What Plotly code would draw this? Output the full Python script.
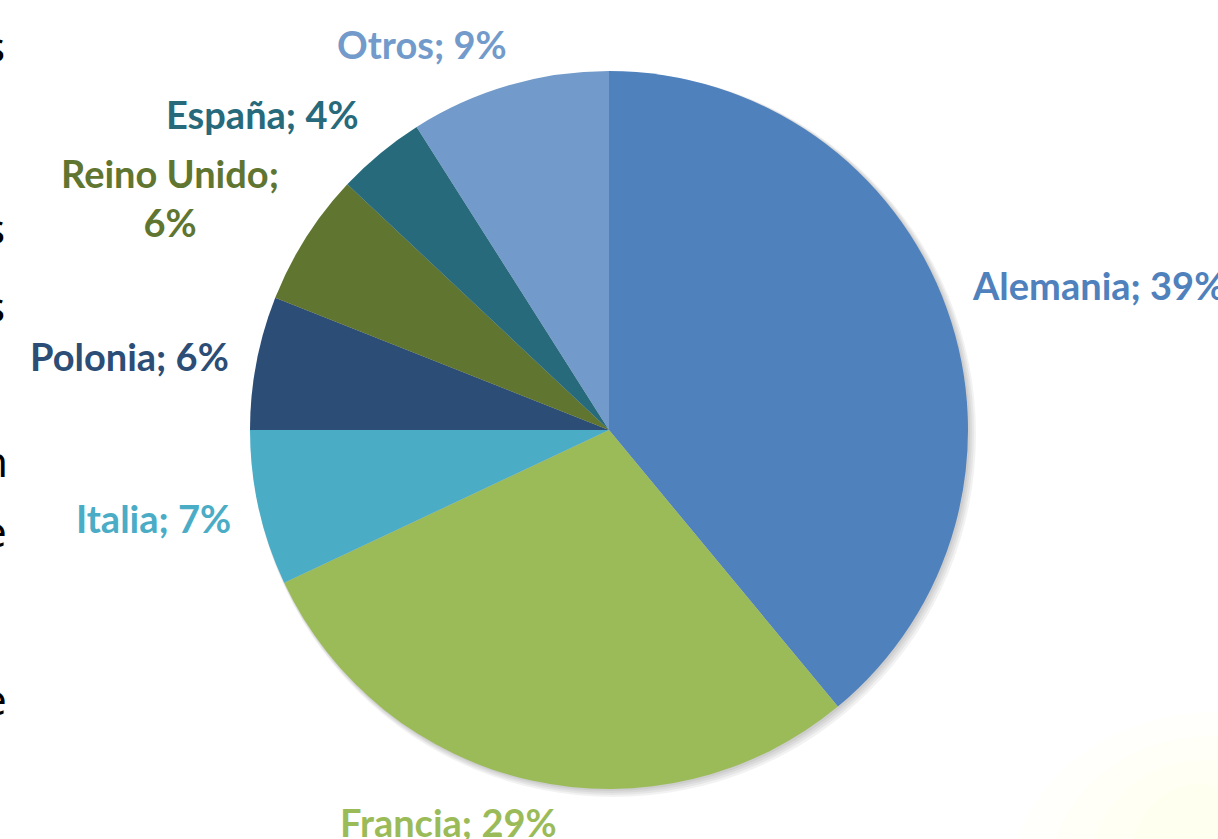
import plotly.graph_objects as go

# ---- data ----
countries = ["Alemania", "Francia", "Italia", "Polonia", "Reino Unido", "España", "Otros"]
shares = [39, 29, 7, 6, 6, 4, 9]
colors = ["#4F81BD", "#9BBB59", "#4BACC6", "#2C4D75", "#5F7530", "#276A7C", "#729ACA"]

W, H = 1218, 839
cx, cy, r = 609, 430, 359

fig = go.Figure()
fig.add_trace(go.Pie(
    labels=countries,
    values=shares,
    marker=dict(colors=colors, line=dict(width=0)),
    sort=False,
    direction="clockwise",
    rotation=0,
    textinfo="none",
    hoverinfo="label+percent",
    showlegend=False,
    domain=dict(x=[(cx - r) / W, (cx + r) / W],
                y=[(H - cy - r) / H, (H - cy + r) / H]),
))

# label placement (pixels from top-left: anchor x, text-box centre y) and anchors
label_pos = {
    "Alemania": (970, 285, "left"),
    "Francia": (448, 822, "center"),
    "Italia": (153, 518, "center"),
    "Polonia": (129, 356, "center"),
    "Reino Unido": (170, 197, "center"),
    "España": (262, 114, "center"),
    "Otros": (422, 44, "center"),
}
annotations = []
for name, val, col in zip(countries, shares, colors):
    x, y, anc = label_pos[name]
    txt = f"{name}; {val}%"
    if name == "Reino Unido":
        txt = f"{name};<br>{val}%"
    annotations.append(dict(
        x=x / W, y=1 - y / H, xref="paper", yref="paper",
        text=f"<b>{txt}</b>", showarrow=False, xanchor=anc, yanchor="middle",
        font=dict(family="Lato, Open Sans, sans-serif", size=38, color=col),
        align="center",
    ))

# clipped slide-text fragments at the left edge
fragments = [("s", 46), ("s", 227), ("s", 305), ("n", 460), ("e", 530), ("e", 698)]
for ch, y in fragments:
    annotations.append(dict(
        x=0, y=1 - y / H, xref="paper", yref="paper", xshift=-5,
        text=ch, showarrow=False, xanchor="center", yanchor="middle",
        font=dict(family="Noto Sans, Liberation Sans, sans-serif", size=42, color="#000000"),
    ))

# soft shadow behind the pie
shapes = []
for i in range(4):
    d = 2 + i * 2
    shapes.append(dict(
        type="circle", xref="paper", yref="paper", layer="below",
        x0=(cx - r + 1) / W, x1=(cx + r + d) / W,
        y0=1 - (cy + r + d) / H, y1=1 - (cy - r + 1) / H,
        fillcolor="rgba(0,0,0,0.05)", line=dict(width=0),
    ))
# faint yellow glow bottom-right
for i in range(4):
    s = 60 + i * 40
    shapes.append(dict(
        type="circle", xref="paper", yref="paper", layer="below",
        x0=(1190 - s) / W, x1=(1190 + s * 1.3) / W,
        y0=1 - (880 + s) / H, y1=1 - (820 - s * 0.6) / H,
        fillcolor="rgba(255,255,205,0.07)", line=dict(width=0),
    ))

fig.update_layout(
    width=W, height=H,
    margin=dict(l=0, r=0, t=0, b=0),
    paper_bgcolor="white", plot_bgcolor="white",
    annotations=annotations,
    shapes=shapes,
)

fig.write_html("out.html", config={"displayModeBar": False},
               post_script="document.body.style.margin='0';")
